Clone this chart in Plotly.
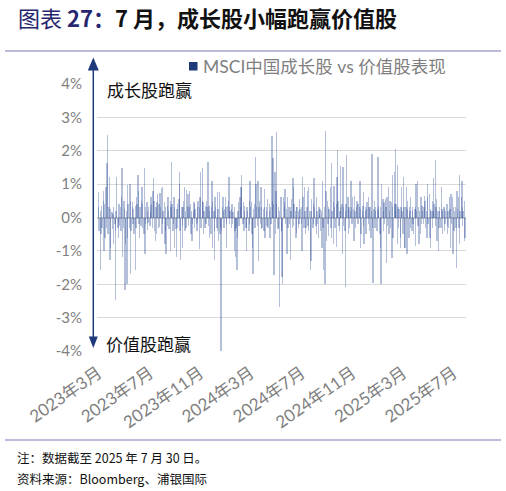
import pandas as pd
import plotly.graph_objects as go

# Daily relative performance, MSCI China Growth vs Value (%)
perf_2023_mar_jul = [0.3, 0.77, -0.4, 0.2, -1.58, -0.5, 0.35, -0.3, 0.5, 0.8,
 -1.0, 0.4, -0.6, 0.9, -0.3, 1.62, 2.46, -0.5, 0.3, 1.2,
 -1.28, -0.9, 0.25, 0.15, -0.35, 0.1, -0.78, 0.3, -0.2, -2.48,
 -0.4, 0.2, 1.2, -0.3, -0.15, -0.6, 0.4, -0.25, 0.3, -0.4,
 0.6, 1.47, -1.18, -0.3, 0.5, 0.25, -2.18, -0.8, 0.2, -1.98,
 -0.6, 0.97, 0.4, -0.3, 1.0, 0.5, -1.68, -0.4, 0.3, 0.47,
 -0.2, 0.25, -0.5, 0.35, -1.58, -0.3, 0.6, 0.4, 1.27, 0.8,
 -0.2, -0.6, 0.3, -0.25, 0.5, 0.92, -0.3, 0.4, -0.5, 1.47,
 -1.1, 0.3, -0.2, 0.45, 0.2, -0.37, -0.15, 0.3, -0.25, 0.35,
 0.15, 0.62, 0.4, -0.3, 0.8, 1.17, 0.5, -0.4, -0.7, 0.3,
 -0.5, 0.45, 0.7]
perf_2023_jul_dec = [-0.3, 0.39, -0.28, 0.72, 0.3, 0.87, -0.48, 0.92, -0.2, 0.2,
 0.45, -0.78, 0.3, -0.4, -1.08, 0.35, -0.25, 0.6, 0.2, -0.35,
 -1.0, 0.5, 0.3, 1.67, 0.4, -0.4, -0.2, 0.6, 0.3, -0.9,
 -0.35, -1.18, 0.25, 0.4, -0.3, 0.55, 1.37, 1.0, -0.4, -1.28,
 0.3, -0.25, -0.9, 0.3, 0.5, 0.9, -0.4, 0.2, -0.3, 0.82,
 0.35, 0.7, -0.25, 0.3, 0.8, 0.4, -0.5, 0.2, -0.7, -0.2,
 0.2, 0.45, -0.3, 0.4, 0.25, -0.2, -0.4, 0.3, -0.15, 0.5,
 -0.95, 0.3, 0.6, 1.37, -0.3, 1.47, 0.5, 0.45, -0.5, 0.2,
 -0.3, 0.35, -0.2, 0.5, 0.3, 1.67, -0.25, 0.35, 0.2, -0.6,
 -0.5, 0.3, 1.1, 0.5, -0.9, 0.2, -1.28, -0.4, 0.6, 0.3,
 -0.3, 0.75, -0.4, 0.25, -0.7, 0.75]
perf_2024_jan_jun = [-0.5, -0.3, -4.1, -0.4, 0.3, 0.6, 0.2, -0.3, 0.25, 0.62,
 0.3, -0.9, -0.2, 0.35, 0.5, 1.2, 0.3, -0.2, 0.2, -0.3,
 0.25, 0.4, -0.2, 0.15, 0.3, -1.0, -0.4, -1.18, -0.3, -1.58,
 -0.6, 0.2, 0.45, -0.25, 0.62, 0.3, 0.9, 1.27, 0.9, -0.2,
 0.45, -0.4, 0.2, 0.35, -0.3, -1.0, -0.3, 0.3, 0.2, -0.4,
 0.5, -0.2, 1.1, 0.3, 0.45, -0.5, -0.9, -1.7, 0.25, 0.4,
 -0.3, 1.8, 1.0, 0.3, -0.25, 1.1, -1.3, 0.3, 0.5, -0.2,
 0.9, -0.35, 0.3, -0.3, 0.25, -0.4, 0.3, 0.85, -0.6, 0.2,
 0.3, -0.25, 0.55, -0.3, 0.2, 0.4, -0.6, 0.3, -0.2, 2.44,
 0.5, 1.77, 0.4, -1.73, 1.37, -0.5, 0.8, 2.56, 0.4, -0.35,
 -0.3, 0.3, 0.2, -2.68, 0.6, -0.4]
perf_2024_jun_nov = [-0.4, -1.78, -2.0, 0.6, 0.3, 0.45, 0.85, -0.2, 0.25, -1.1,
 0.6, -0.3, 0.3, -0.2, 0.3, -1.28, 0.2, 0.55, -0.3, 1.17,
 0.9, -0.25, 0.4, 0.2, -0.6, 0.3, -0.45, 0.3, 0.2, -0.3,
 -0.2, 0.55, 0.25, -0.2, 0.3, -1.0, 1.22, 0.6, -0.3, 0.9,
 0.2, -0.5, -0.3, 0.3, 0.8, -0.25, 0.9, -0.4, 0.2, -1.58,
 -1.3, 0.55, 0.2, -0.3, 0.4, -0.2, 1.17, 0.3, -0.25, 0.6,
 -0.5, 0.2, -0.2, -0.6, 0.3, 0.1, 0.25, -0.4, 0.2, -0.9,
 1.1, -0.3, -1.58, 0.3, -1.98, 2.6, 0.8, -0.7, 0.5, -0.2,
 0.3, -0.55, 0.25, 0.9, -0.3, 1.63, -0.6, 0.2, 0.45, -0.8,
 0.95, 0.3, -0.3, 0.4, -0.88, 1.2, 2.03, 0.5, -0.25, -0.4,
 0.2, 0.3, 1.53, 0.4, -1.1, 1.5]
perf_2024_nov_2025_mar = [0.3, -0.25, -0.4, -2.08, 0.2, 0.4, 1.87, 0.6, 0.25, -0.5,
 0.3, -0.3, 0.2, 1.1, 0.3, -0.2, 0.6, 0.25, -0.7, 0.65,
 0.2, -0.3, 0.3, 0.5, -0.2, 0.4, -0.2, 0.3, 1.1, -0.9,
 0.25, -0.5, 0.2, 0.35, 0.75, -0.25, -0.8, 0.2, 0.3, -0.5,
 0.25, 0.45, -0.2, 0.6, 0.3, -0.4, 0.3, -0.6, 0.2, 1.9,
 -0.3, -1.97, 0.25, 0.5, -0.3, 0.2, 0.3, -0.4, 0.25, 1.8,
 0.2, 0.35, -0.5, -0.9, 0.3, -2.0, 1.0, 0.55, 0.2, -0.4,
 0.45, -0.2, 0.55, 0.3, -1.37, 0.6, -0.25, 0.9, -0.5, 0.2,
 0.5, -0.3, 0.45, -1.2, 1.27, 0.3, -0.6, 1.37, 0.4, 0.2,
 2.05, 0.4, -0.8, 1.57, 0.3, -0.3, 0.25, -0.6, -0.9, 0.3,
 0.9, 0.2, -0.5, 1.2, 0.3, -0.9]
perf_2025_mar_jul = [-0.9, 0.3, 0.9, -1.1, 0.25, 0.5, -0.6, 0.3, 0.2, -0.3,
 0.6, -0.4, 0.2, 0.3, -0.2, -0.5, 0.25, -0.85, 0.3, 1.0,
 0.2, 1.1, -0.25, 0.3, -0.8, 0.2, -0.5, 0.6, -0.2, 0.35,
 0.2, -0.2, 0.3, 0.65, 0.5, -0.3, 0.2, -0.6, 0.6, 1.0,
 -0.2, 0.7, -0.6, 0.25, -0.9, 0.2, 0.5, -0.3, 0.2, 1.17,
 0.4, -0.25, 1.71, 0.3, 0.55, -0.7, 0.2, -1.0, -0.3, 0.3,
 0.2, -0.3, 0.9, 0.25, -0.5, 0.2, 0.3, -0.4, 0.25, -0.2,
 0.2, 0.4, -0.25, -0.5, 0.2, -0.3, 0.6, 0.25, -0.9, 0.7,
 -0.2, 0.6, -1.1, 0.3, -0.4, 0.2, 0.3, -0.3, -1.5, 0.8,
 0.25, 0.6, -0.3, 1.27, -0.8, 0.2, 0.6, 1.1, -0.25, 0.3,
 0.2, -0.7, 0.5, -0.62]

series_name = "MSCI中国成长股 vs 价值股表现"
start_date = "2023-03-01"
x_tick_dates = ["2023-03-01", "2023-07-03", "2023-11-01", "2024-03-01",
                "2024-07-02", "2024-11-01", "2025-03-03", "2025-07-02"]
x_tick_labels = ["2023年3月", "2023年7月", "2023年11月", "2024年3月",
                 "2024年7月", "2024年11月", "2025年3月", "2025年7月"]
y_tick_values = [-4, -3, -2, -1, 0, 1, 2, 3, 4]
y_tick_labels = ["-4%", "-3%", "-2%", "-1%", "0%", "1%", "2%", "3%", "4%"]

values = (perf_2023_mar_jul + perf_2023_jul_dec + perf_2024_jan_jun
          + perf_2024_jun_nov + perf_2024_nov_2025_mar + perf_2025_mar_jul)
dates = pd.bdate_range(start_date, periods=len(values))

NAVY = "#1F3A7A"
GREY = "#7F7F7F"
LAV = "#A3A3CF"
CJK = "Noto Sans CJK SC"
LAT = "Lato, Noto Sans CJK SC"

W, H = 506, 491
OFF = 0  # the page's body margin is removed below, so figure = window
# plot box in window pixels
PL, PR, PT, PB = 97, 466, 84, 351


def fx(xp):
    return (xp - OFF) / W


def fy(yp):
    return (H - (yp - OFF)) / H


fig = go.Figure()
fig.add_trace(go.Bar(x=dates, y=values, showlegend=False, name=series_name,
                     marker=dict(color="#34529A", opacity=0.37, line=dict(width=0))))

shapes = [
    dict(type="line", xref="paper", yref="paper", x0=fx(5), x1=fx(501), y0=fy(51), y1=fy(51),
         line=dict(color=LAV, width=1.5)),
    dict(type="line", xref="paper", yref="paper", x0=fx(5), x1=fx(501), y0=fy(440), y1=fy(440),
         line=dict(color=LAV, width=1.5)),
    dict(type="line", xref="paper", yref="paper", x0=fx(93.3), x1=fx(93.3), y0=fy(68), y1=fy(338),
         line=dict(color=NAVY, width=1.5)),
    dict(type="path", xref="paper", yref="paper", fillcolor=NAVY, line=dict(width=0),
         path=f"M {fx(93.3)} {fy(57.5)} L {fx(87.8)} {fy(70.5)} L {fx(98.8)} {fy(70.5)} Z"),
    dict(type="path", xref="paper", yref="paper", fillcolor=NAVY, line=dict(width=0),
         path=f"M {fx(93.3)} {fy(348)} L {fx(88.8)} {fy(336.5)} L {fx(97.8)} {fy(336.5)} Z"),
    # legend swatch
    dict(type="rect", xref="paper", yref="paper", x0=fx(189), x1=fx(197.5), y0=fy(70.5), y1=fy(62),
         fillcolor=NAVY, line=dict(width=0)),
]


def note(text, x, y, size, color="#111111", bold=False, family=CJK):
    f = dict(family=family, size=size, color=color)
    if bold:
        f["weight"] = "bold"
    return dict(text=text, xref="paper", yref="paper", x=fx(x), y=fy(y),
                xanchor="left", yanchor="middle", align="left", showarrow=False,
                borderpad=0, font=f)


annotations = [
    note("<span style='color:#27276F'>图表</span><b><span style='color:#27276F'> 27：</span>"
         "7 月，成长股小幅跑赢价值股</b>", 17, 17.5, 22),
    note(series_name, 202, 66, 17.5, color=GREY, family=LAT),
    note("成长股跑赢", 106, 89, 17),
    note("价值股跑赢", 105, 343, 17),
    note("注：数据截至 2025 年 7 月 30 日。", 16, 457, 12.5),
    note("资料来源：Bloomberg、浦银国际", 16, 478, 12.5),
]

fig.update_layout(
    width=W, height=H,
    margin=dict(l=0, r=0, t=0, b=0, pad=0, autoexpand=False),
    paper_bgcolor="white", plot_bgcolor="white",
    bargap=0,
    shapes=shapes, annotations=annotations,
    showlegend=False,
    xaxis=dict(type="date", domain=[fx(PL), fx(PR)], range=["2023-02-26", "2025-08-01"],
               automargin=False,
               tickvals=x_tick_dates, ticktext=x_tick_labels, tickangle=-35,
               showgrid=False, zeroline=False, showline=False, ticks="",
               tickfont=dict(family=LAT, size=17, color=GREY), ticklabelstandoff=8),
    yaxis=dict(domain=[fy(PB), fy(PT)], range=[-4, 4], automargin=False,
               tickvals=y_tick_values, ticktext=y_tick_labels,
               showgrid=True, gridcolor="#D9D9D9", gridwidth=1.2,
               zeroline=True, zerolinecolor="#D0D0D0", zerolinewidth=1.5,
               showline=False, ticks="",
               tickfont=dict(family=LAT, size=15, color=GREY), ticklabelstandoff=14),
)

fig.write_html("out.html", config={"displayModeBar": False},
               post_script="document.body.style.margin='0px';")
